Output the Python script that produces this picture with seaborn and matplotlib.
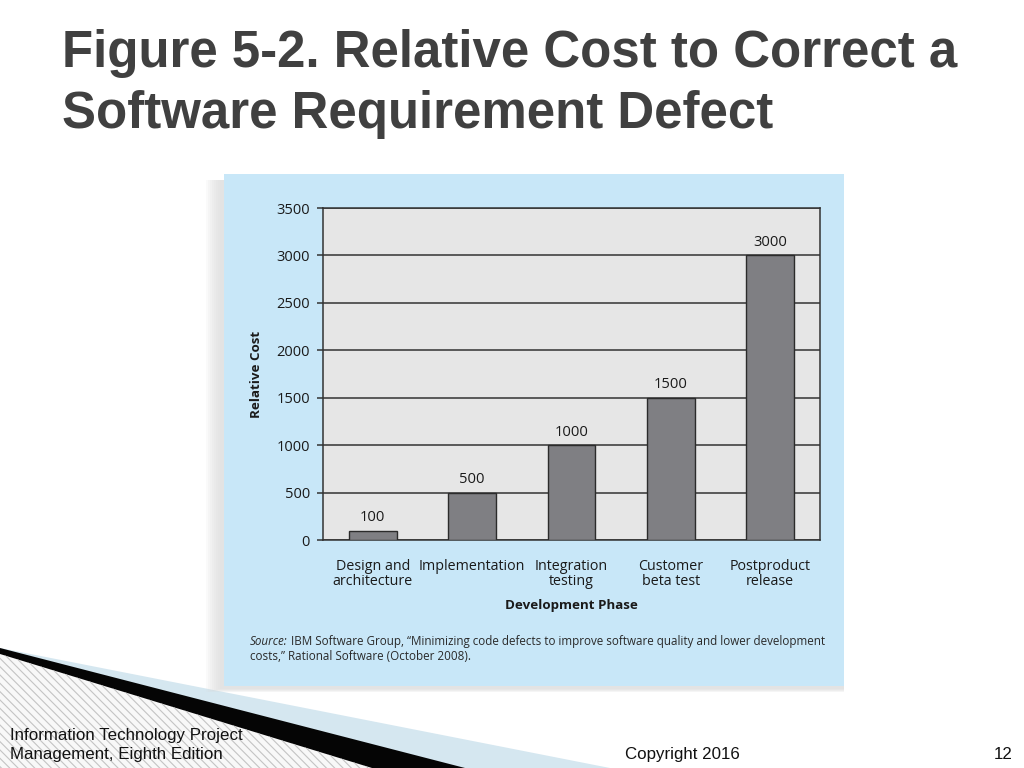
import numpy as np
import pandas as pd
import seaborn as sns
import matplotlib.pyplot as plt
from matplotlib.patches import Polygon, Rectangle

# data
phases = ["Design and\narchitecture", "Implementation", "Integration\ntesting",
          "Customer\nbeta test", "Postproduct\nrelease"]
costs = [100, 500, 1000, 1500, 3000]
y_ticks = [0, 500, 1000, 1500, 2000, 2500, 3000, 3500]

title_lines = ["Figure 5-2. Relative Cost to Correct a", "Software Requirement Defect"]
source_lead = "Source:"
source_rest = ["IBM Software Group, \u201cMinimizing code defects to improve software quality and lower development",
               "costs,\u201d Rational Software (October 2008)."]
footer_left = ["Information Technology Project", "Management, Eighth Edition"]

W, H = 1024, 768


def fx(x):
    return x / W


def fy(y):
    return 1 - y / H


def fig_poly(pts, **kw):
    return Polygon([(fx(x), fy(y)) for x, y in pts], transform=fig.transFigure, **kw)


sns.set_style("white")
plt.rcParams['font.family'] = ['Open Sans', 'DejaVu Sans']
plt.rcParams['hatch.linewidth'] = 0.8

fig = plt.figure(figsize=(10.24, 7.68), dpi=100)
fig.patch.set_facecolor('white')

# slide decoration bottom-left
fig.patches.append(fig_poly([(0, 648), (610, 768), (0, 768)], facecolor='#d5e7f0', lw=0, zorder=-8))
fig.patches.append(fig_poly([(0, 648), (465, 768), (0, 768)], facecolor='#050505', lw=0, zorder=-7))
fig.patches.append(fig_poly([(0, 654), (372, 768), (0, 768)], facecolor='#f8f8f8',
                            edgecolor='#c4c4c4', hatch='\\\\\\\\', lw=0, zorder=-6))

# panel with soft shadow (left and bottom)
for i in range(8):
    fig.patches.append(Rectangle((fx(206 + 2 * i), fy(692 - 0.5 * i)), (844 - 206 - 2 * i) / W,
                                 (692 - 0.5 * i - 180) / H, transform=fig.transFigure,
                                 facecolor='#d8d8d8', alpha=0.12, lw=0, zorder=-5))
fig.patches.append(Rectangle((fx(224), fy(686)), (844 - 224) / W, (686 - 174) / H,
                             transform=fig.transFigure, facecolor='#c8e7f8', lw=0, zorder=-4))

ax = fig.add_axes([fx(323), fy(540), (820 - 323) / W, (540 - 208) / H])
df = pd.DataFrame({'phase': phases, 'cost': costs})
sns.barplot(data=df, x='phase', y='cost', color='#7f7f83', saturation=1, width=0.48,
            edgecolor='#2b2b2b', linewidth=1, ax=ax, zorder=3)

ax.set_facecolor('#e6e6e6')
ax.set_xlim(-0.5, 4.5)
ax.set_ylim(0, 3500)
ax.set_yticks(y_ticks)
ax.set_axisbelow(True)
ax.yaxis.grid(True, color='#333333', lw=1.1)
ax.xaxis.grid(False)
for sp in ax.spines.values():
    sp.set_visible(True)
    sp.set_color('#333333')
    sp.set_linewidth(1.1)

ax.bar_label(ax.containers[0], labels=[str(c) for c in costs], padding=4,
             fontsize=10.6, color='#1a1a1a')

ax.tick_params(axis='x', which='major', length=0, pad=14, labelsize=10.3, labelcolor='#1a1a1a')
ax.set_xticks(np.arange(-0.5, 5, 1), minor=True)
ax.tick_params(axis='x', which='minor', length=6, width=1.1, color='#333333', direction='out')
ax.tick_params(axis='y', length=4.5, width=1.1, color='#333333', pad=5, labelsize=10.5,
               labelcolor='#1a1a1a', left=True)
for lab in ax.get_xticklabels():
    lab.set_linespacing(1.0)
ax.set_xlabel('')
ax.set_ylabel('')

fig.text(fx(571), fy(605), 'Development Phase', fontsize=9.6, fontweight='bold',
         color='#1a1a1a', ha='center', va='center')
fig.text(fx(257), fy(374), 'Relative Cost', fontsize=9.6, fontweight='bold',
         color='#1a1a1a', ha='center', va='center', rotation=90)

# source note
renderer = fig.canvas.get_renderer()
t = fig.text(fx(250), fy(645), source_lead, fontsize=8.4, style='italic',
             color='#2a2a2a', va='baseline')
x_end = t.get_window_extent(renderer).x1
fig.text((x_end + 3) / W, fy(645), source_rest[0], fontsize=8.4, color='#2a2a2a', va='baseline')
fig.text(fx(250), fy(660), source_rest[1], fontsize=8.4, color='#2a2a2a', va='baseline')

# title
for txt, base in zip(title_lines, [67, 128]):
    fig.text(fx(62), fy(base), txt, fontsize=36.7, fontweight='bold', color='#404040',
             family='Liberation Sans', va='baseline')

# footer
for txt, base in zip(footer_left, [740, 759]):
    fig.text(fx(10), fy(base), txt, fontsize=12.2, color='#111111',
             family='Liberation Sans', va='baseline')
fig.text(fx(625), fy(759), 'Copyright 2016', fontsize=12.2, color='#111111',
         family='Liberation Sans', va='baseline')
fig.text(fx(1013), fy(759), '12', fontsize=12.2, color='#111111',
         family='Liberation Sans', va='baseline', ha='right')

fig.savefig('out.png', dpi=100)
